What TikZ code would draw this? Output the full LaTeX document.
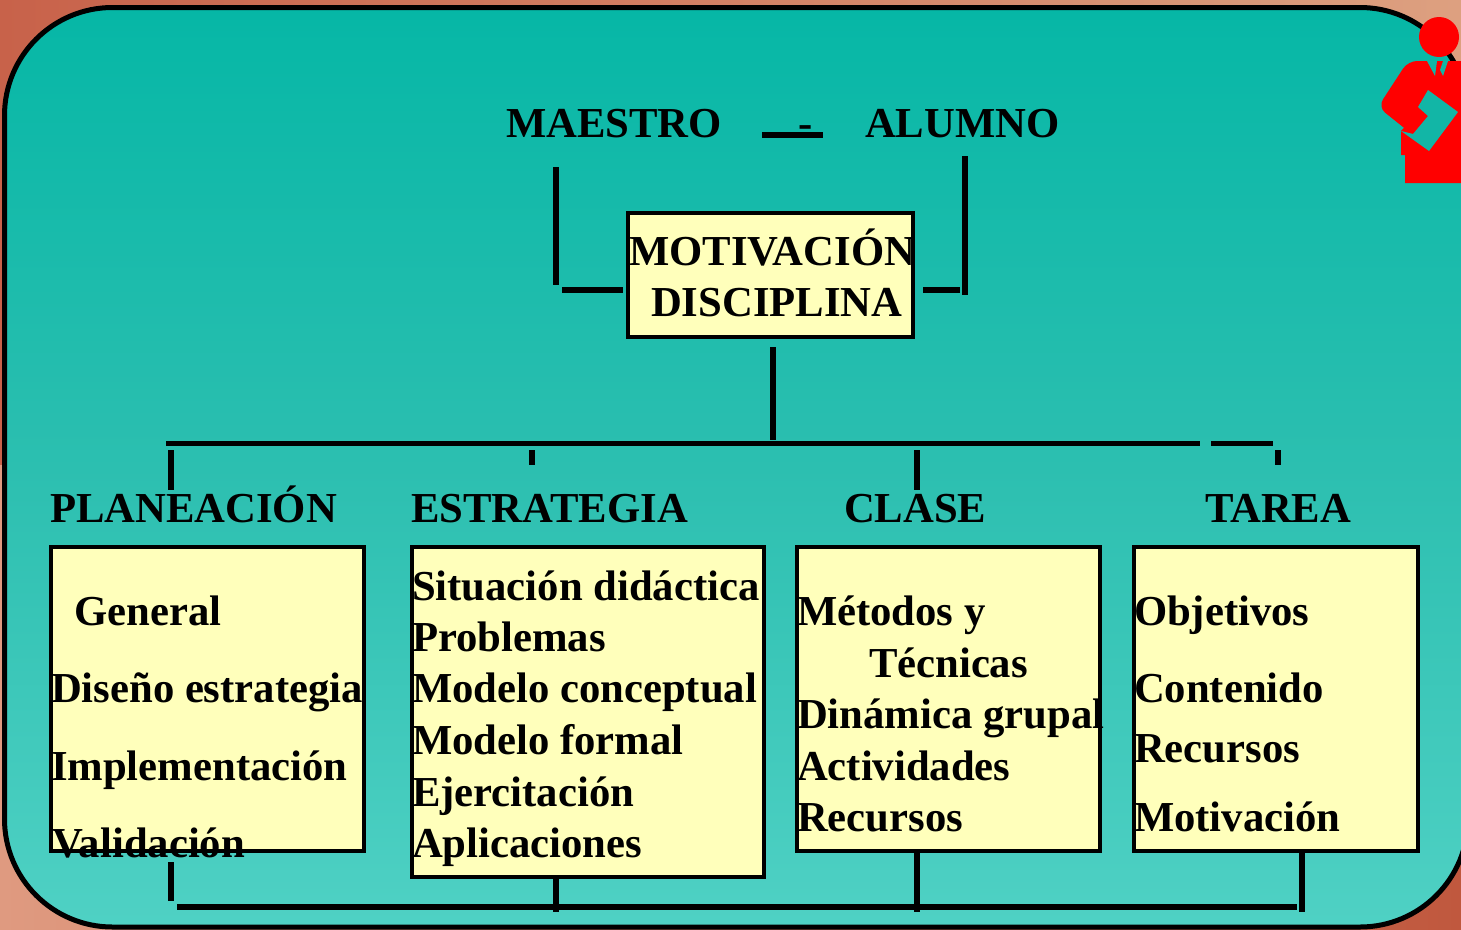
\documentclass[tikz,border=0pt]{standalone}
\usepackage{fontspec}
\setmainfont{Liberation Serif}
\definecolor{cornerA}{HTML}{C8624A}
\definecolor{cornerB}{HTML}{DDA080}
\definecolor{cornerC}{HTML}{DF9A80}
\definecolor{cornerD}{HTML}{C0583E}
\definecolor{panelTop}{HTML}{06B7A6}
\definecolor{panelMid}{HTML}{2CBFB0}
\definecolor{panelBot}{HTML}{4FD1C4}
\definecolor{paperFill}{HTML}{12B6A6}
\definecolor{boxFill}{HTML}{FFFFBB}
\tikzset{
	txt/.style={anchor=base west,inner sep=0pt,outer sep=0pt,font=\fontsize{42.7}{43}\selectfont\bfseries},
	box/.style={draw=black,line width=4.8pt,fill=boxFill,inner sep=0pt,outer sep=0pt},
	conn/.style={line width=5.5pt}
}
\begin{document}
\begin{tikzpicture}[x=1pt,y=-1pt]
	\clip (0,0) rectangle (1461,929);
	\fill[left color=cornerA,right color=cornerB] (0,0) rectangle (1461,465);
	\fill[left color=cornerC,right color=cornerD] (0,465) rectangle (1461,929);
	\draw[line width=5pt,rounded corners=108pt,top color=panelTop,bottom color=panelBot,middle color=panelMid] (4.5,7.5) rectangle (1468,927);
	% red figure
	\fill[red,rounded corners=9pt] (1480,61)--(1408,61)--(1378,107)--(1413,135)--(1440,150)--(1480,150)--cycle;
	\fill[red] (1401,131)--(1401,155)--(1405,155)--(1405,183)--(1461,183)--(1461,110)--(1420,110)--cycle;
	\fill[paperFill] (1413,134)--(1428,116)--(1418,107)--(1428,90)--(1458,112)--(1429,151)--(1401,131)--cycle;
	\fill[paperFill] (1427,61)--(1435,76)--(1437,61)--cycle;
	\fill[paperFill] (1443,61)--(1440,70)--(1443,76)--(1448,61)--cycle;
	\node[fill=red,circle,inner sep=0pt,minimum size=40pt] (head) at (1439,37) {};
	% boxes
	\node[box,minimum width=285pt,minimum height=124pt] (motivBox) at (770.5,275) {};
	\node[box,minimum width=313pt,minimum height=304pt] (planBox) at (207.5,699) {};
	\node[box,minimum width=352pt,minimum height=330pt] (estrBox) at (588,712) {};
	\node[box,minimum width=303pt,minimum height=304pt] (claseBox) at (948.5,699) {};
	\node[box,minimum width=284pt,minimum height=304pt] (tareaBox) at (1276,699) {};
	% connector ends
	\coordinate (maestroA) at (556,167);
	\coordinate (maestroB) at (556,285);
	\coordinate (maestroC) at (562,290);
	\coordinate (maestroD) at (623,290);
	\coordinate (alumnoA) at (965,156);
	\coordinate (alumnoB) at (965,295);
	\coordinate (alumnoC) at (960,290);
	\coordinate (alumnoD) at (923,290);
	\coordinate (dashA) at (762,135);
	\coordinate (dashB) at (823,135);
	\coordinate (downA) at (773,347);
	\coordinate (downB) at (773,440);
	\coordinate (busA) at (166,443.5);
	\coordinate (busB) at (1200,443.5);
	\coordinate (busC) at (1211,443.5);
	\coordinate (busD) at (1273,443.5);
	\coordinate (lowA) at (177,907);
	\coordinate (lowB) at (1297,907);
	\draw[conn] (maestroA)--(maestroB);
	\draw[conn] (maestroC)--(maestroD);
	\draw[conn] (alumnoA)--(alumnoB);
	\draw[conn] (alumnoC)--(alumnoD);
	\draw[conn] (dashA)--(dashB);
	\draw[conn] (downA)--(downB);
	\draw[conn] (busA)--(busB);
	\draw[conn] (busC)--(busD);
	\draw[conn] (171,450)--(171,490);
	\draw[conn] (532,450)--(532,465);
	\draw[conn] (917,450)--(917,490);
	\draw[conn] (1278,450)--(1278,465);
	\draw[conn] (lowA)--(lowB);
	\draw[conn] (171,862)--(171,901);
	\draw[conn] (556,878)--(556,912);
	\draw[conn] (917,852)--(917,912);
	\draw[conn] (1302,852)--(1302,912);
	% texts
	\node[txt] (maestro) at (506,137) {MAESTRO};
	\node[txt] (dash) at (798,137) {-};
	\node[txt] (alumno) at (865,137) {ALUMNO};
	\node[txt] (motiv) at (629,265.5) {MOTIVACIÓN};
	\node[txt] (disc) at (651,316.5) {DISCIPLINA};
	\node[txt] (plan) at (50,522.5) {PLANEACIÓN};
	\node[txt] (estr) at (411,522.5) {ESTRATEGIA};
	\node[txt] (clase) at (844,522.5) {CLASE};
	\node[txt] (tarea) at (1205,522.5) {TAREA};
	\node[txt] (planA) at (74.5,625.5) {General};
	\node[txt] (planB) at (51,702.5) {Diseño estrategia};
	\node[txt] (planC) at (51,780.5) {Implementación};
	\node[txt] (planD) at (52,857) {Validación};
	\node[txt] (estrA) at (412,600) {Situación didáctica};
	\node[txt] (estrB) at (412,651) {Problemas};
	\node[txt] (estrC) at (412,702.5) {Modelo conceptual};
	\node[txt] (estrD) at (412,754.5) {Modelo formal};
	\node[txt] (estrE) at (412,806) {Ejercitación};
	\node[txt] (estrF) at (412,857.5) {Aplicaciones};
	\node[txt] (claseA) at (797,625.5) {Métodos y};
	\node[txt] (claseB) at (869,677.5) {Técnicas};
	\node[txt] (claseC) at (797,728.5) {Dinámica grupal};
	\node[txt] (claseD) at (797,780.5) {Actividades};
	\node[txt] (claseE) at (797,831.5) {Recursos};
	\node[txt] (tareaA) at (1134,625.5) {Objetivos};
	\node[txt] (tareaB) at (1134,702.5) {Contenido};
	\node[txt] (tareaC) at (1134,762.5) {Recursos};
	\node[txt] (tareaD) at (1134,831.5) {Motivación};
\end{tikzpicture}
\end{document}
